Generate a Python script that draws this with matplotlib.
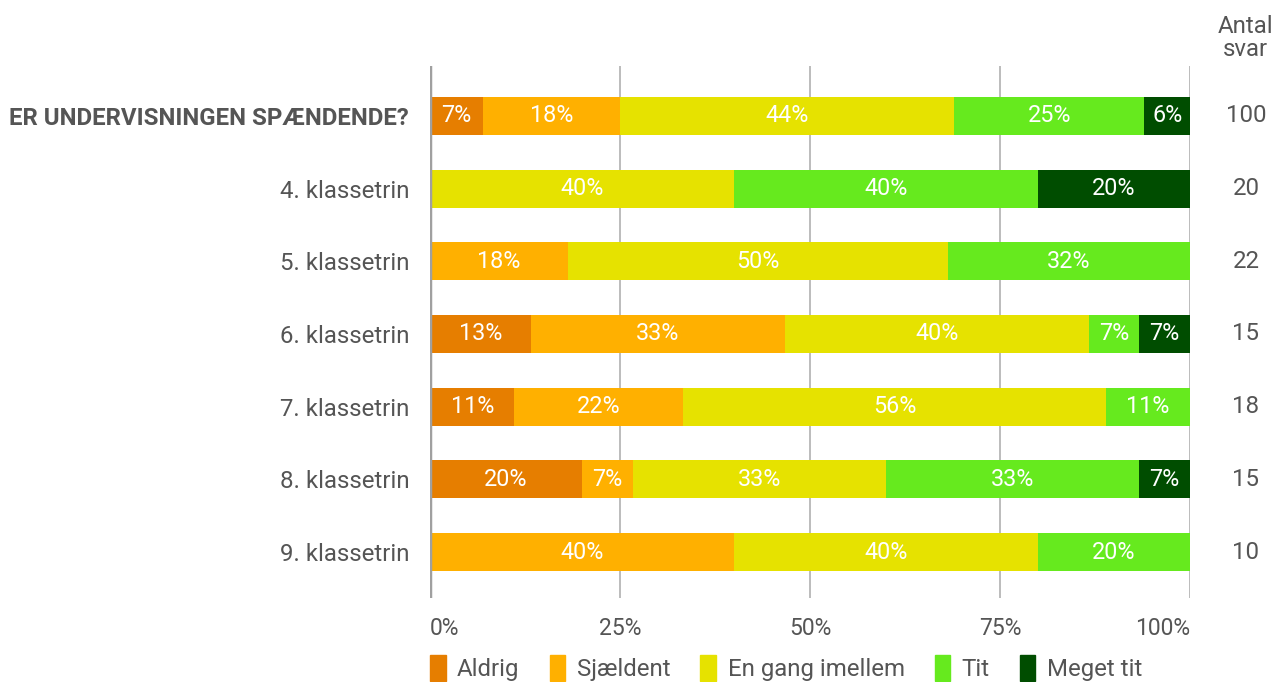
import numpy as np
import matplotlib
matplotlib.use("Agg")
from matplotlib import pyplot as plt
from matplotlib.patches import Patch

plt.rcParams['font.family'] = ['Roboto', 'DejaVu Sans']

rows = ["ER UNDERVISNINGEN SPÆNDENDE?", "4. klassetrin", "5. klassetrin", "6. klassetrin",
        "7. klassetrin", "8. klassetrin", "9. klassetrin"]
answers = [100, 20, 22, 15, 18, 15, 10]
categories = ["Aldrig", "Sjældent", "En gang imellem", "Tit", "Meget tit"]
colors = ["#E67E00", "#FFB000", "#E6E200", "#66EA1E", "#004D00"]

# antal svar pr. kategori
aldrig = [7, 0, 0, 2, 2, 3, 0]
sjaeldent = [18, 0, 4, 5, 4, 1, 4]
en_gang = [44, 8, 11, 6, 10, 5, 4]
tit = [25, 8, 7, 1, 2, 5, 2]
meget_tit = [6, 4, 0, 1, 0, 1, 0]

counts = np.array([aldrig, sjaeldent, en_gang, tit, meget_tit], dtype=float)
n = np.array(answers, dtype=float)
pct = counts / n * 100

W, H = 1273, 682
fig = plt.figure(figsize=(W / 100, H / 100), dpi=100)
ax = fig.add_axes([430 / W, 1 - 598 / H, 760 / W, 532 / H])

grey = '#555555'
fs = 17.3
y = np.arange(len(rows))
left = np.zeros(len(rows))
for i, cat in enumerate(categories):
    ax.barh(y, pct[i], left=left, height=0.52, color=colors[i], zorder=2)
    for j in range(len(rows)):
        if pct[i][j] > 0:
            ax.text(left[j] + pct[i][j] / 2, y[j], "%d%%" % round(pct[i][j]),
                    ha='center', va='center', color='white', fontsize=16.8, zorder=3)
    left += pct[i]

ax.set_xlim(0, 100)
ax.set_ylim(6.633, -0.688)
for s in ax.spines.values():
    s.set_visible(False)
for xv in [25, 50, 75, 100]:
    ax.axvline(xv, color='#b0b0b0', lw=1.2, zorder=1)
ax.axvline(0, color='#a0a0a0', lw=2.5, zorder=4)

ax.set_xticks([0, 25, 50, 75, 100])
ax.set_xticklabels(["0%", "25%", "50%", "75%", "100%"])
ax.tick_params(axis='x', length=0, pad=14, labelsize=16.5, labelcolor=grey)
xl = ax.get_xticklabels()
xl[0].set_horizontalalignment('left')
xl[-1].set_horizontalalignment('right')
ax.set_yticks(y)
ax.set_yticklabels(rows)
ax.tick_params(axis='y', length=0, pad=15, labelsize=fs, labelcolor=grey)
ax.get_yticklabels()[0].set_fontweight('bold')

# antal svar kolonne
for j in range(len(rows)):
    ax.annotate(str(answers[j]), xy=(1246 / W, y[j]), xycoords=('figure fraction', 'data'),
                ha='center', va='center', fontsize=fs, color=grey)
fig.text(1245 / W, 1 - 38 / H, "Antal\nsvar", ha='center', va='center',
         fontsize=fs, color=grey, linespacing=1.05)

handles = [Patch(facecolor=c, edgecolor=c, label=l) for c, l in zip(colors, categories)]
fig.legend(handles=handles, loc='center left', bbox_to_anchor=(430 / W, 1 - 668 / H),
           ncol=5, frameon=False, fontsize=fs, labelcolor=grey, borderpad=0, borderaxespad=0,
           handlelength=0.65, handleheight=1.3, handletextpad=0.48, columnspacing=1.25)

fig.savefig("out.png", dpi=100)
